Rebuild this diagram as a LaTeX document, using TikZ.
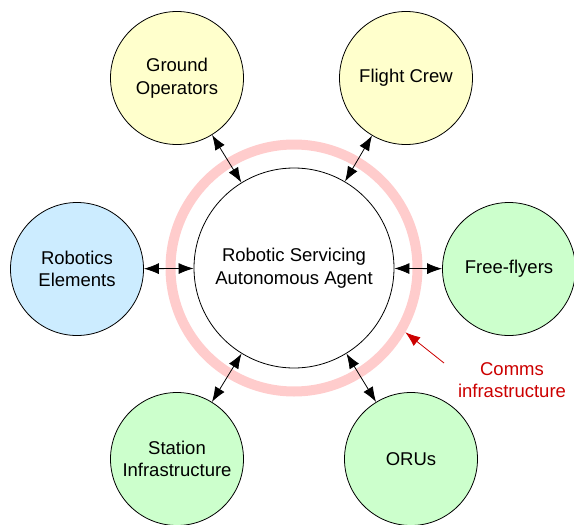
\documentclass[tikz,border=0pt]{standalone}
\usepackage{fontspec}
\setmainfont{Liberation Sans}
\usepackage{xcolor}
\usetikzlibrary{arrows.meta}

\definecolor{opsyellow}{RGB}{255,255,204}
\definecolor{robotblue}{RGB}{204,236,255}
\definecolor{assetgreen}{RGB}{204,255,204}
\definecolor{ringpink}{RGB}{255,204,204}
\definecolor{commsred}{RGB}{204,0,0}

\tikzstyle{party} = [circle, draw, line width=0.8pt, minimum size=133pt, inner sep=0pt, align=center, font=\fontsize{18.5}{22.5}\selectfont]
\tikzstyle{link} = [{Latex[length=15pt,width=11pt]}-{Latex[length=15pt,width=11pt]}, line width=0.8pt]

\begin{document}
\begin{tikzpicture}[x=1pt, y=-1pt]
    \useasboundingbox (0,0) rectangle (574,525);

    % Comms ring around the agent
    \node[circle, draw=ringpink, line width=10pt, minimum size=247pt, inner sep=0pt] (ring) at (294,268) {};

    % Central agent
    \node[party, fill=white, minimum size=200pt] (agent) at (294,268) {Robotic Servicing\\Autonomous Agent};

    % Surrounding parties
    \node[party, fill=opsyellow] (ground) at (177,78) {Ground\\Operators};
    \node[party, fill=opsyellow] (crew) at (406,78) {Flight Crew};
    \node[party, fill=robotblue] (robotics) at (77,269) {Robotics\\Elements};
    \node[party, fill=assetgreen] (flyers) at (509,269) {Free-flyers};
    \node[party, fill=assetgreen] (station) at (177,459) {Station\\Infrastructure};
    \node[party, fill=assetgreen] (orus) at (411,459) {ORUs};

    % Two-way links to the agent
    \draw[link] (ground) -- (agent);
    \draw[link] (crew) -- (agent);
    \draw[link] (robotics) -- (agent);
    \draw[link] (flyers) -- (agent);
    \draw[link] (station) -- (agent);
    \draw[link] (orus) -- (agent);

    % Comms label
    \node[font=\fontsize{18.5}{22.5}\selectfont, text=commsred, align=center] (comms) at (512,380) {Comms\\infrastructure};
    \coordinate (commstail) at (444,363);
    \draw[-{Latex[length=15pt,width=11pt]}, commsred, line width=0.8pt] (commstail) -- (ring.-30);
\end{tikzpicture}
\end{document}
